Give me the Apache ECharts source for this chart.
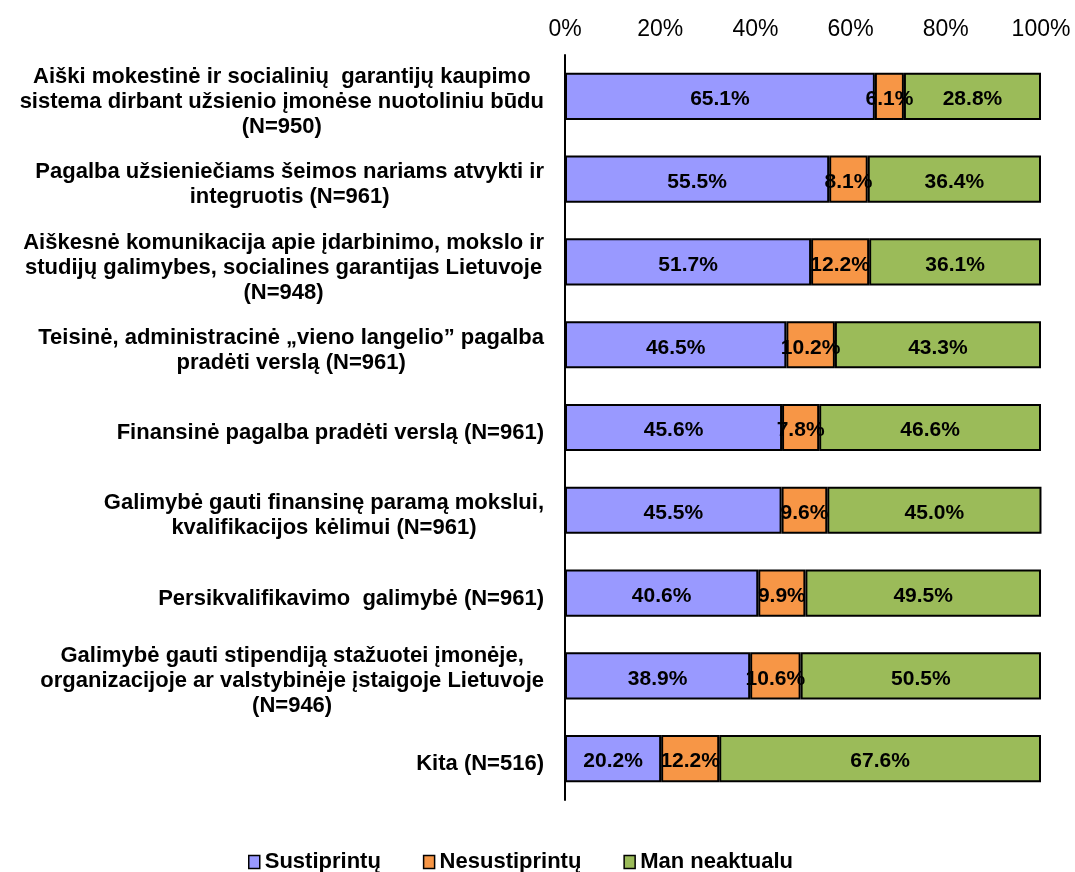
<!DOCTYPE html>
<html>
<head>
<meta charset="utf-8">
<script src="https://cdn.jsdelivr.net/npm/echarts@6/dist/echarts.min.js"></script>
<style>
html,body{margin:0;padding:0;background:#fff;}
#chart{width:1075px;height:872px;}
</style>
</head>
<body>
<div id="chart"></div>
<script>
const categories = [
  "Aiški mokestinė ir socialinių  garantijų kaupimo\nsistema dirbant užsienio įmonėse nuotoliniu būdu\n(N=950)",
  "Pagalba užsieniečiams šeimos nariams atvykti ir\nintegruotis (N=961)",
  "Aiškesnė komunikacija apie įdarbinimo, mokslo ir\nstudijų galimybes, socialines garantijas Lietuvoje\n(N=948)",
  "Teisinė, administracinė „vieno langelio” pagalba\npradėti verslą (N=961)",
  "Finansinė pagalba pradėti verslą (N=961)",
  "Galimybė gauti finansinę paramą mokslui,\nkvalifikacijos kėlimui (N=961)",
  "Persikvalifikavimo  galimybė (N=961)",
  "Galimybė gauti stipendiją stažuotei įmonėje,\norganizacijoje ar valstybinėje įstaigoje Lietuvoje\n(N=946)",
  "Kita (N=516)"
];
const seriesNames = ["Sustiprintų", "Nesustiprintų", "Man neaktualu"];
const sustiprintu = [65.1, 55.5, 51.7, 46.5, 45.6, 45.5, 40.6, 38.9, 20.2];
const nesustiprintu = [6.1, 8.1, 12.2, 10.2, 7.8, 9.6, 9.9, 10.6, 12.2];
const manNeaktualu = [28.8, 36.4, 36.1, 43.3, 46.6, 45.0, 49.5, 50.5, 67.6];
const tickLabels = ["0%", "20%", "40%", "60%", "80%", "100%"];
const colors = ["#9999FF", "#F79646", "#9BBB59"];

const FONT = "'Liberation Sans', Arial, sans-serif";
const chart = echarts.init(document.getElementById('chart'));

function mkSeries(name, data, color) {
  return {
    name: name,
    type: 'bar',
    stack: 'total',
    barWidth: '57%',
    data: data,
    itemStyle: { color: color, borderColor: '#000', borderWidth: 2 },
    label: {
      show: true,
      position: 'inside',
      offset: [0, 3],
      formatter: p => p.value.toFixed(1) + '%',
      color: '#000',
      fontFamily: FONT,
      fontWeight: 'bold',
      fontSize: 21
    }
  };
}

chart.setOption({
  backgroundColor: '#fff',
  animation: false,
  grid: { left: 565, right: 34, top: 55, bottom: 72, containLabel: false },
  xAxis: {
    type: 'value',
    position: 'top',
    min: 0, max: 100, interval: 20,
    axisLine: { show: false },
    axisTick: { show: false },
    splitLine: { show: false },
    axisLabel: {
      margin: 14,
      color: '#000',
      fontFamily: FONT,
      fontSize: 23,
      formatter: v => tickLabels[Math.round(v / 20)]
    }
  },
  yAxis: {
    type: 'category',
    inverse: true,
    data: categories,
    axisLine: { show: true, lineStyle: { color: '#000', width: 2 } },
    axisTick: { show: false },
    axisLabel: {
      margin: 21,
      align: 'right',
      padding: [11, 0, 0, 0],
      formatter: v => v.split('\n').map(l => '{c|' + l + '}').join('\n'),
      rich: {
        c: {
          align: 'center',
          fontFamily: FONT,
          fontWeight: 'bold',
          fontSize: 22,
          lineHeight: 25,
          color: '#000'
        }
      }
    }
  },
  legend: {
    top: 846,
    left: 243,
    itemWidth: 11,
    itemHeight: 13,
    itemGap: 42,
    itemTextGap: 4,
    icon: 'rect',
    textStyle: { fontFamily: FONT, fontWeight: 'bold', fontSize: 22, color: '#000' },
    data: seriesNames.map((n, i) => ({ name: n, itemStyle: { color: colors[i], borderColor: '#000', borderWidth: 1.5 } }))
  },
  series: [
    mkSeries(seriesNames[0], sustiprintu, colors[0]),
    mkSeries(seriesNames[1], nesustiprintu, colors[1]),
    mkSeries(seriesNames[2], manNeaktualu, colors[2])
  ]
});
</script>
</body>
</html>
